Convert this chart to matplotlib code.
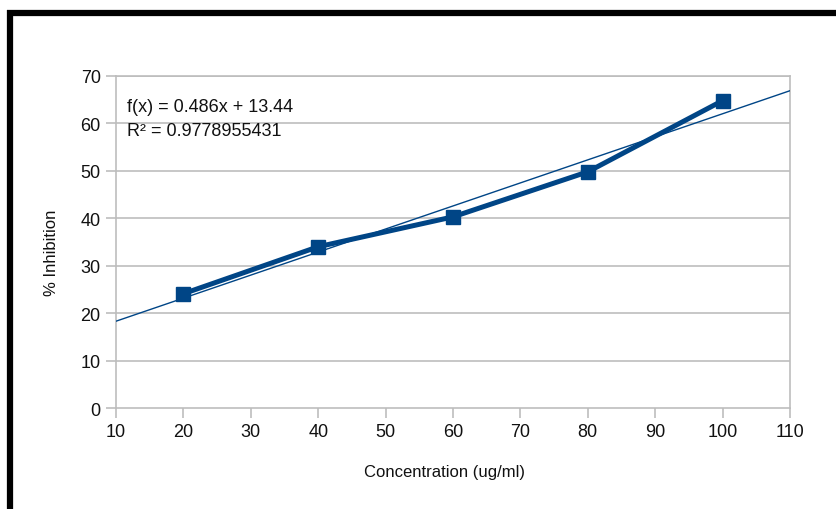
import matplotlib
matplotlib.use("Agg")
import matplotlib.pyplot as plt
from matplotlib.lines import Line2D

plt.rcParams['font.family'] = ['Liberation Sans', 'DejaVu Sans']

# Measured inhibition at each concentration
concentration = [20, 40, 60, 80, 100]
inhibition = [24.1, 34.0, 40.3, 49.8, 64.8]

# Linear trend line coefficients
slope = 0.486
intercept = 13.44
r_squared = "0.9778955431"

x_ticks = [10, 20, 30, 40, 50, 60, 70, 80, 90, 100, 110]
y_ticks = [0, 10, 20, 30, 40, 50, 60, 70]

W, H, DPI = 836, 510, 100
fig = plt.figure(figsize=(W / DPI, H / DPI), dpi=DPI)
fig.patch.set_facecolor("white")

# plot area in pixels: left 116, right 790, top 77, bottom 409
ax = fig.add_axes([116 / W, 1 - 409 / H, (790 - 116) / W, (409 - 77) / H])
ax.set_xlim(10, 110)
ax.set_ylim(0, 70)

grid_col = "#bdbdbd"
blue = "#004586"
text_col = "#111111"

for y in y_ticks[1:]:
    ax.axhline(y, color=grid_col, lw=1.2, zorder=1)

for s in ax.spines.values():
    s.set_color(grid_col)
    s.set_linewidth(1.2)

ax.set_xticks(x_ticks)
ax.set_yticks(y_ticks)
ax.tick_params(axis="both", color=grid_col, width=1.2, length=7,
               labelsize=13, labelcolor=text_col)
ax.tick_params(axis="x", pad=4)
ax.tick_params(axis="y", pad=4)

# trend line across the full x range
xs = [10, 110]
ax.plot(xs, [slope * x + intercept for x in xs], color=blue, lw=1.0, zorder=3)

# data series
ax.plot(concentration, inhibition, color=blue, lw=3.6, marker="s",
        markersize=9.5, solid_joinstyle="round", zorder=4)

fig.text(127 / W, 1 - 108 / H, f"f(x) = {slope}x + {intercept}",
         fontsize=13, color=text_col, va="center", ha="left")
fig.text(127 / W, 1 - 132 / H, f"R² = {r_squared}",
         fontsize=13, color=text_col, va="center", ha="left")

fig.text(51 / W, 1 - 253 / H, "% Inhibition", rotation=90,
         fontsize=12, color=text_col, va="center", ha="center")
fig.text(444 / W, 1 - 472 / H, "Concentration (ug/ml)",
         fontsize=12, color=text_col, va="center", ha="center")

# black frame on top and left edges
fig.add_artist(Line2D([7 / W, 1], [1 - 14 / H, 1 - 14 / H], color="black",
                      lw=4.5, transform=fig.transFigure, solid_capstyle="butt"))
fig.add_artist(Line2D([10 / W, 10 / W], [1 - 11 / H, 0], color="black",
                      lw=4.5, transform=fig.transFigure, solid_capstyle="butt"))

fig.savefig("out.png", dpi=DPI, facecolor="white")
